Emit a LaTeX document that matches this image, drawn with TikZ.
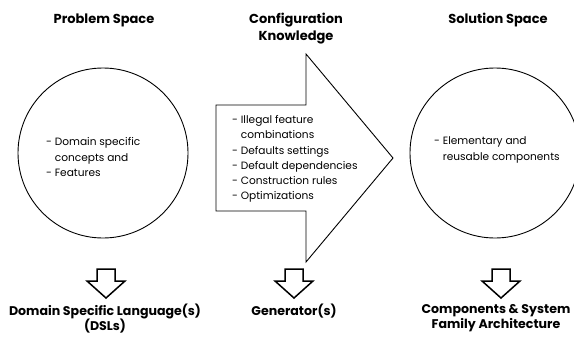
\documentclass[tikz,border=0pt]{standalone}
\usepackage{fontspec}
\setmainfont{Poppins}
\usetikzlibrary{positioning}
\tikzset{
  title/.style={font=\bfseries\fontsize{13}{17}\selectfont,align=center,inner sep=0pt},
  label/.style={font=\bfseries\fontsize{12.6}{15}\selectfont,align=center,inner sep=0pt},
  body/.style={font=\fontsize{10.6}{15.2}\selectfont,align=left,inner sep=0pt,anchor=west},
  space/.style={draw,line width=0.9pt,circle,minimum size=170pt,inner sep=0pt},
  bigarrow/.style={draw,line width=0.9pt,line join=miter},
  downarrow/.style={draw,line width=1.5pt,line join=miter}
}
\newcommand{\ind}{\hphantom{- }}

\begin{document}
\begin{tikzpicture}[x=1pt,y=-1pt]
\useasboundingbox (0,0) rectangle (574,338);
% titles
\node[title] (probT) at (104,20) {Problem Space};
\node[title] (confT) at (296,29) {Configuration\\Knowledge};
\node[title] (solT) at (498,20) {Solution Space};
% problem and solution space
\node[space] (prob) at (103,153) {};
\node[space] (sol) at (495,153) {};
\node[body] (probTxt) at (46,157) {- Domain specific\\\ind concepts and\\- Features};
\node[body] (solTxt) at (434,150) {- Elementary and\\\ind reusable components};
% configuration knowledge
\draw[bigarrow] (216,105) coordinate (k1) -- (306,105) -- (306,54) -- (393,158) coordinate (ktip)
  -- (306,262) -- (306,211) -- (216,211) -- cycle;
\node[body] (confTxt) at (232,159) {- Illegal feature\\\ind combinations\\- Defaults settings\\- Default dependencies\\- Construction rules\\- Optimizations};
% down arrows
\foreach \x/\n in {106/a,294/b,501/c}{
  \draw[downarrow] (\x-9,269) coordinate (\n) -- (\x+9,269) -- (\x+9,281) -- (\x+19,281) -- (\x,298)
    -- (\x-19,281) -- (\x-9,281) -- cycle;
}
% results
\node[label] (dsl) at (105,318.5) {Domain Specific Language(s)\\(DSLs)};
\node[label] (gen) at (294,311.5) {Generator(s)};
\node[label] (comp) at (496,318.5) {Components \& System\\Family Architecture};
\end{tikzpicture}
\end{document}
